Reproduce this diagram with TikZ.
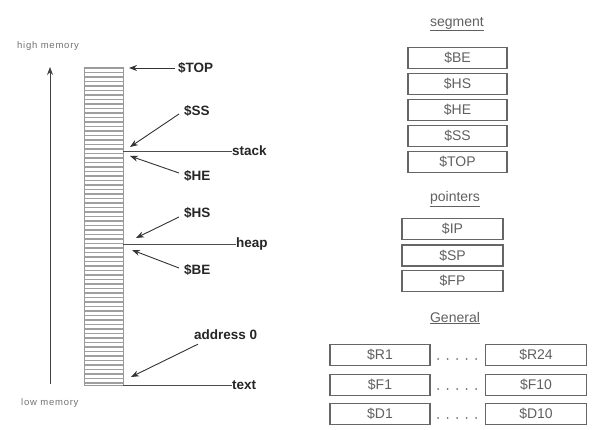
\documentclass[tikz,border=0pt]{standalone}
\usepackage{fontspec}
\setmainfont{Liberation Sans}
\usetikzlibrary{arrows.meta}
\definecolor{boxtext}{HTML}{606060}
\definecolor{boxline}{HTML}{666666}
\begin{document}
\begin{tikzpicture}[x=1pt,y=-1pt,
  lbl/.style={font=\bfseries\fontsize{13.5}{14}\selectfont, text=black!85, inner sep=0pt, anchor=west},
  small/.style={font=\fontsize{9.5}{10}\selectfont\addfontfeature{LetterSpace=8}, text=black!55, inner sep=0pt},
  reg/.style={draw=boxline, line width=1.1pt, minimum width=99pt, minimum height=21pt, inner sep=0pt, font=\fontsize{14}{15}\selectfont, text=boxtext},
  head/.style={font=\fontsize{14}{15}\selectfont, text=boxtext, inner sep=1pt},
  ptr/.style={-{Stealth[length=8pt,width=6pt]}, line width=0.9pt, draw=black!80},
  conn/.style={line width=0.9pt, draw=black!70}]
\useasboundingbox (0,0) rectangle (595,430);
\fill[white] (0,0) rectangle (595,430);
% memory column
\foreach \yy in {68,72.5,...,384} {\draw[gray!75, line width=1.4pt] (85,\yy) -- (123,\yy);}
\draw[gray!80, line width=0.8pt] (84,67) rectangle (123,385);
\coordinate (ctop) at (123,67);
\coordinate (cstack) at (123,151);
\coordinate (cheap) at (123,244);
\coordinate (ctext) at (123,385);
% memory direction arrow
\coordinate (mbot) at (50,384);
\coordinate (mtop) at (50,67);
\draw[-{Stealth[length=8pt,width=6pt]}, line width=0.9pt, black!75] (mbot) -- (mtop);
\node[small, anchor=west] (hm) at (17,46) {high memory};
\node[small, anchor=west] (lm) at (21,403) {low memory};
% labels
\node[lbl] (TOP) at (178,68) {\$TOP};
\node[lbl] (SS) at (184,111) {\$SS};
\node[lbl] (stack) at (232,151) {stack};
\node[lbl] (HE) at (184,176) {\$HE};
\node[lbl] (HS) at (184,213) {\$HS};
\node[lbl] (heap) at (236,244) {heap};
\node[lbl] (BE) at (184,270) {\$BE};
\node[lbl] (addr) at (194,335) {address 0};
\node[lbl] (text) at (232,385) {text};
% region lines
\draw[conn] (cstack) -- (stack.west);
\draw[conn] (cheap) -- (heap.west);
\draw[conn] (ctext) -- (text.west);
% pointer arrows
\coordinate (aTOP) at (129,68);
\coordinate (aSS) at (130,147);
\coordinate (aHE) at (130,156);
\coordinate (aHS) at (136,238);
\coordinate (aBE) at (132,250);
\coordinate (aaddr) at (131,377);
\draw[ptr] (TOP.west) ++(-3,0) -- (aTOP);
\draw[ptr] (SS.west) ++(-5,3) -- (aSS);
\draw[ptr] (HE.west) ++(-5,-3) -- (aHE);
\draw[ptr] (HS.west) ++(-5,4) -- (aHS);
\draw[ptr] (BE.west) ++(-5,-2) -- (aBE);
\draw[ptr] (addr.south west) ++(4,4) -- (aaddr);
% segment registers
\node[head] (seg) at (457,24) {\underline{segment}};
\node[reg] (rBE) at (457.5,58) {\$BE};
\node[reg] (rHS) at (457.5,84) {\$HS};
\node[reg] (rHE) at (457.5,110) {\$HE};
\node[reg] (rSS) at (457.5,136) {\$SS};
\node[reg] (rTOP) at (457.5,162) {\$TOP};
% pointers
\node[head] (ptrs) at (455,199) {\underline{pointers}};
\node[reg, minimum width=101pt] (rIP) at (452.5,229) {\$IP};
\node[reg, minimum width=101pt] (rSP) at (452.5,255.5) {\$SP};
\node[reg, minimum width=101pt] (rFP) at (452.5,281) {\$FP};
% general
\node[head] (gen) at (455,318) {\underline{General}};
\node[reg, minimum width=100pt] (rR1) at (380,355) {\$R1};
\node[reg, minimum width=101pt] (rR24) at (536,355) {\$R24};
\node[reg, minimum width=100pt] (rF1) at (380,385) {\$F1};
\node[reg, minimum width=101pt] (rF10) at (536,385) {\$F10};
\node[reg, minimum width=100pt] (rD1) at (380,414) {\$D1};
\node[reg, minimum width=101pt] (rD10) at (536,414) {\$D10};
\foreach \r in {355,385,414} {
  \foreach \d in {0,1,2,3,4} {\fill[black!55] (438+\d*9.5,\r+4) circle (1pt);}
}
\end{tikzpicture}
\end{document}
